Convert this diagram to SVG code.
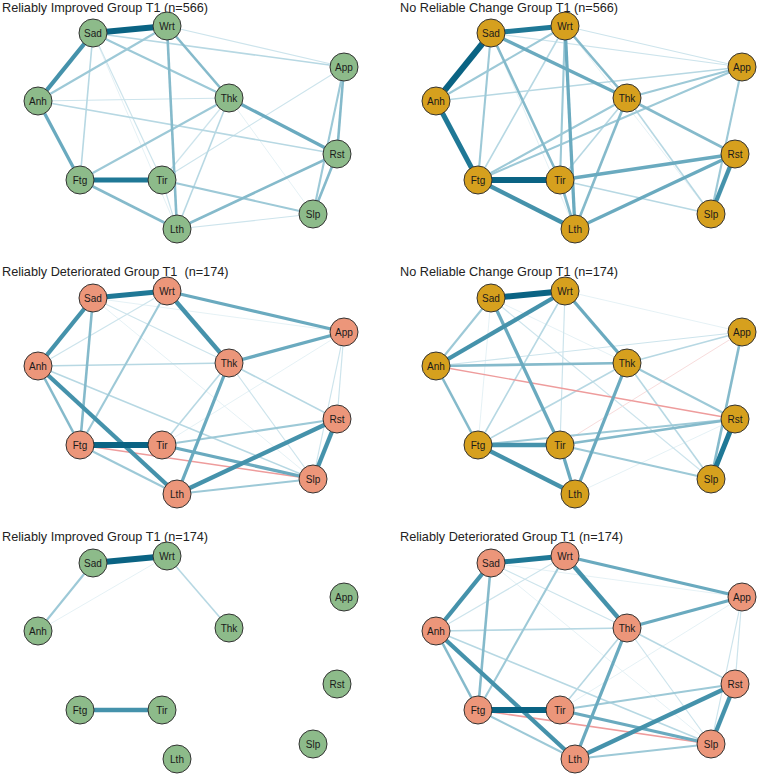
<svg xmlns="http://www.w3.org/2000/svg" width="758" height="777" viewBox="0 0 758 777">
<style>
.bg{fill:#ffffff}
.title{font-family:"Liberation Sans",Arial,sans-serif;font-size:12.7px;fill:#222222}
.e{fill:none}
.neg{stroke:#EE9C9C}
.a6{stroke-width:6;stroke:#0A6383}
.a5{stroke-width:5;stroke:#1F7896}
.a4{stroke-width:4.3;stroke:#4592AB}
.a3{stroke-width:3.3;stroke:#6AAABF}
.a25{stroke-width:2.6;stroke:#85BACB}
.a2{stroke-width:2.1;stroke:#9DC9D7}
.a15{stroke-width:1.6;stroke:#B7D8E3}
.a1{stroke-width:1.2;stroke:#CDE4EC}
.a05{stroke-width:.9;stroke:#E2EFF4}
.node circle{stroke:#333333;stroke-width:1}
.gr circle{fill:#8DBB8A}
.go circle{fill:#D6A01E}
.sa circle{fill:#EC967A}
.node text{font-family:"Liberation Sans",Arial,sans-serif;font-size:10px;fill:#1a1a1a;text-anchor:middle}
</style>
<rect class="bg" x="0" y="0" width="758" height="777"/>

<text class="title" x="2" y="12">Reliably Improved Group T1 (n=566)</text>
<text class="title" x="400" y="12">No Reliable Change Group T1 (n=566)</text>
<text class="title" x="2" y="276" xml:space="preserve">Reliably Deteriorated Group T1  (n=174)</text>
<text class="title" x="400" y="276">No Reliable Change Group T1 (n=174)</text>
<text class="title" x="2" y="541">Reliably Improved Group T1 (n=174)</text>
<text class="title" x="400" y="541">Reliably Deteriorated Group T1 (n=174)</text>

<!-- Panel 1 -->
<g id="panel1" transform="translate(0,0)">
<g id="p1-edges">
<line class="e a05" x1="93" y1="33" x2="177" y2="229"/>
<line class="e a05" x1="229" y1="98" x2="313" y2="214"/>
<line class="e a1" x1="167" y1="26" x2="344" y2="67"/>
<line class="e a1" x1="38" y1="101" x2="229" y2="98"/>
<line class="e a1" x1="93" y1="33" x2="162" y2="180"/>
<line class="e a1" x1="162" y1="180" x2="177" y2="229"/>
<line class="e a1" x1="229" y1="98" x2="162" y2="180"/>
<line class="e a1" x1="344" y1="67" x2="162" y2="180"/>
<line class="e a1" x1="177" y1="229" x2="313" y2="214"/>
<line class="e a15" x1="93" y1="33" x2="80" y2="180"/>
<line class="e a15" x1="93" y1="33" x2="344" y2="67"/>
<line class="e a15" x1="38" y1="101" x2="337" y2="154"/>
<line class="e a15" x1="229" y1="98" x2="177" y2="229"/>
<line class="e a2" x1="344" y1="67" x2="313" y2="214"/>
<line class="e a2" x1="93" y1="33" x2="229" y2="98"/>
<line class="e a2" x1="80" y1="180" x2="229" y2="98"/>
<line class="e a2" x1="162" y1="180" x2="313" y2="214"/>
<line class="e a2" x1="167" y1="26" x2="38" y2="101"/>
<line class="e a25" x1="167" y1="26" x2="229" y2="98"/>
<line class="e a25" x1="167" y1="26" x2="177" y2="229"/>
<line class="e a25" x1="80" y1="180" x2="177" y2="229"/>
<line class="e a25" x1="177" y1="229" x2="337" y2="154"/>
<line class="e a25" x1="344" y1="67" x2="337" y2="154"/>
<line class="e a25" x1="337" y1="154" x2="313" y2="214"/>
<line class="e a3" x1="229" y1="98" x2="337" y2="154"/>
<line class="e a3" x1="38" y1="101" x2="80" y2="180"/>
<line class="e a4" x1="93" y1="33" x2="38" y2="101"/>
<line class="e a5" x1="80" y1="180" x2="162" y2="180"/>
<line class="e a6" x1="93" y1="33" x2="167" y2="26"/>
</g>
<g id="p1-sad" class="node gr"><circle cx="93" cy="33" r="14"/><text x="93" y="36.5">Sad</text></g>
<g id="p1-wrt" class="node gr"><circle cx="167" cy="26" r="14"/><text x="167" y="29.5">Wrt</text></g>
<g id="p1-app" class="node gr"><circle cx="344" cy="67" r="14"/><text x="344" y="70.5">App</text></g>
<g id="p1-anh" class="node gr"><circle cx="38" cy="101" r="14"/><text x="38" y="104.5">Anh</text></g>
<g id="p1-thk" class="node gr"><circle cx="229" cy="98" r="14"/><text x="229" y="101.5">Thk</text></g>
<g id="p1-rst" class="node gr"><circle cx="337" cy="154" r="14"/><text x="337" y="157.5">Rst</text></g>
<g id="p1-ftg" class="node gr"><circle cx="80" cy="180" r="14"/><text x="80" y="183.5">Ftg</text></g>
<g id="p1-tir" class="node gr"><circle cx="162" cy="180" r="14"/><text x="162" y="183.5">Tir</text></g>
<g id="p1-slp" class="node gr"><circle cx="313" cy="214" r="14"/><text x="313" y="217.5">Slp</text></g>
<g id="p1-lth" class="node gr"><circle cx="177" cy="229" r="14"/><text x="177" y="232.5">Lth</text></g>
</g>

<!-- Panel 2 -->
<g id="panel2" transform="translate(398,0)">
<g id="p2-edges">
<line class="e a05" x1="167" y1="26" x2="313" y2="214"/>
<line class="e a05" x1="93" y1="33" x2="177" y2="229"/>
<line class="e a1" x1="93" y1="33" x2="344" y2="67"/>
<line class="e a1" x1="167" y1="26" x2="344" y2="67"/>
<line class="e a15" x1="167" y1="26" x2="80" y2="180"/>
<line class="e a15" x1="38" y1="101" x2="344" y2="67"/>
<line class="e a15" x1="229" y1="98" x2="313" y2="214"/>
<line class="e a15" x1="162" y1="180" x2="313" y2="214"/>
<line class="e a15" x1="229" y1="98" x2="162" y2="180"/>
<line class="e a2" x1="93" y1="33" x2="80" y2="180"/>
<line class="e a2" x1="167" y1="26" x2="38" y2="101"/>
<line class="e a2" x1="167" y1="26" x2="162" y2="180"/>
<line class="e a2" x1="229" y1="98" x2="344" y2="67"/>
<line class="e a2" x1="80" y1="180" x2="344" y2="67"/>
<line class="e a2" x1="80" y1="180" x2="229" y2="98"/>
<line class="e a2" x1="344" y1="67" x2="313" y2="214"/>
<line class="e a25" x1="229" y1="98" x2="177" y2="229"/>
<line class="e a25" x1="229" y1="98" x2="337" y2="154"/>
<line class="e a25" x1="162" y1="180" x2="177" y2="229"/>
<line class="e a25" x1="167" y1="26" x2="229" y2="98"/>
<line class="e a25" x1="93" y1="33" x2="162" y2="180"/>
<line class="e a3" x1="93" y1="33" x2="229" y2="98"/>
<line class="e a3" x1="167" y1="26" x2="177" y2="229"/>
<line class="e a3" x1="162" y1="180" x2="337" y2="154"/>
<line class="e a3" x1="177" y1="229" x2="337" y2="154"/>
<line class="e a4" x1="80" y1="180" x2="177" y2="229"/>
<line class="e a4" x1="337" y1="154" x2="313" y2="214"/>
<line class="e a5" x1="93" y1="33" x2="167" y2="26"/>
<line class="e a5" x1="38" y1="101" x2="80" y2="180"/>
<line class="e a6" x1="93" y1="33" x2="38" y2="101"/>
<line class="e a6" x1="80" y1="180" x2="162" y2="180"/>
</g>
<g id="p2-sad" class="node go"><circle cx="93" cy="33" r="14"/><text x="93" y="36.5">Sad</text></g>
<g id="p2-wrt" class="node go"><circle cx="167" cy="26" r="14"/><text x="167" y="29.5">Wrt</text></g>
<g id="p2-app" class="node go"><circle cx="344" cy="67" r="14"/><text x="344" y="70.5">App</text></g>
<g id="p2-anh" class="node go"><circle cx="38" cy="101" r="14"/><text x="38" y="104.5">Anh</text></g>
<g id="p2-thk" class="node go"><circle cx="229" cy="98" r="14"/><text x="229" y="101.5">Thk</text></g>
<g id="p2-rst" class="node go"><circle cx="337" cy="154" r="14"/><text x="337" y="157.5">Rst</text></g>
<g id="p2-ftg" class="node go"><circle cx="80" cy="180" r="14"/><text x="80" y="183.5">Ftg</text></g>
<g id="p2-tir" class="node go"><circle cx="162" cy="180" r="14"/><text x="162" y="183.5">Tir</text></g>
<g id="p2-slp" class="node go"><circle cx="313" cy="214" r="14"/><text x="313" y="217.5">Slp</text></g>
<g id="p2-lth" class="node go"><circle cx="177" cy="229" r="14"/><text x="177" y="232.5">Lth</text></g>
</g>

<!-- Panel 3 -->
<g id="panel3" transform="translate(0,265)">
<g id="p3-edges">
<line class="e a05" x1="93" y1="33" x2="313" y2="214"/>
<line class="e a05" x1="344" y1="67" x2="162" y2="180"/>
<line class="e a05" x1="93" y1="33" x2="344" y2="67"/>
<line class="e a1" x1="167" y1="26" x2="38" y2="101"/>
<line class="e a1" x1="93" y1="33" x2="229" y2="98"/>
<line class="e a1" x1="344" y1="67" x2="337" y2="154"/>
<line class="e a1" x1="344" y1="67" x2="313" y2="214"/>
<line class="e a1" x1="229" y1="98" x2="313" y2="214"/>
<line class="e a15" x1="38" y1="101" x2="229" y2="98"/>
<line class="e a15" x1="229" y1="98" x2="162" y2="180"/>
<line class="e a15" x1="229" y1="98" x2="337" y2="154"/>
<line class="e a15" x1="38" y1="101" x2="313" y2="214"/>
<line class="e a2" x1="167" y1="26" x2="80" y2="180"/>
<line class="e a2" x1="162" y1="180" x2="337" y2="154"/>
<line class="e a2" x1="80" y1="180" x2="177" y2="229"/>
<line class="e a2" x1="177" y1="229" x2="313" y2="214"/>
<line class="e neg" stroke-width="1.5" x1="80" y1="180" x2="313" y2="214"/>
<line class="e a25" x1="38" y1="101" x2="80" y2="180"/>
<line class="e a25" x1="93" y1="33" x2="80" y2="180"/>
<line class="e a3" x1="167" y1="26" x2="344" y2="67"/>
<line class="e a3" x1="229" y1="98" x2="344" y2="67"/>
<line class="e a3" x1="229" y1="98" x2="177" y2="229"/>
<line class="e a3" x1="162" y1="180" x2="313" y2="214"/>
<line class="e a4" x1="93" y1="33" x2="38" y2="101"/>
<line class="e a4" x1="167" y1="26" x2="229" y2="98"/>
<line class="e a4" x1="38" y1="101" x2="177" y2="229"/>
<line class="e a4" x1="177" y1="229" x2="337" y2="154"/>
<line class="e a4" x1="337" y1="154" x2="313" y2="214"/>
<line class="e a5" x1="93" y1="33" x2="167" y2="26"/>
<line class="e a6" x1="80" y1="180" x2="162" y2="180"/>
</g>
<g id="p3-sad" class="node sa"><circle cx="93" cy="33" r="14"/><text x="93" y="36.5">Sad</text></g>
<g id="p3-wrt" class="node sa"><circle cx="167" cy="26" r="14"/><text x="167" y="29.5">Wrt</text></g>
<g id="p3-app" class="node sa"><circle cx="344" cy="67" r="14"/><text x="344" y="70.5">App</text></g>
<g id="p3-anh" class="node sa"><circle cx="38" cy="101" r="14"/><text x="38" y="104.5">Anh</text></g>
<g id="p3-thk" class="node sa"><circle cx="229" cy="98" r="14"/><text x="229" y="101.5">Thk</text></g>
<g id="p3-rst" class="node sa"><circle cx="337" cy="154" r="14"/><text x="337" y="157.5">Rst</text></g>
<g id="p3-ftg" class="node sa"><circle cx="80" cy="180" r="14"/><text x="80" y="183.5">Ftg</text></g>
<g id="p3-tir" class="node sa"><circle cx="162" cy="180" r="14"/><text x="162" y="183.5">Tir</text></g>
<g id="p3-slp" class="node sa"><circle cx="313" cy="214" r="14"/><text x="313" y="217.5">Slp</text></g>
<g id="p3-lth" class="node sa"><circle cx="177" cy="229" r="14"/><text x="177" y="232.5">Lth</text></g>
</g>

<!-- Panel 4 -->
<g id="panel4" transform="translate(398,265)">
<g id="p4-edges">
<line class="e a05" x1="167" y1="26" x2="344" y2="67"/>
<line class="e a05" x1="93" y1="33" x2="229" y2="98"/>
<line class="e a05" x1="177" y1="229" x2="337" y2="154"/>
<line class="e a05" x1="93" y1="33" x2="80" y2="180"/>
<line class="e a1" x1="38" y1="101" x2="344" y2="67"/>
<line class="e a1" x1="167" y1="26" x2="162" y2="180"/>
<line class="e a1" x1="93" y1="33" x2="313" y2="214"/>
<line class="e" stroke="#F8DCDC" stroke-width="1" x1="162" y1="180" x2="344" y2="67"/>
<line class="e a15" x1="167" y1="26" x2="80" y2="180"/>
<line class="e a15" x1="80" y1="180" x2="229" y2="98"/>
<line class="e a15" x1="229" y1="98" x2="344" y2="67"/>
<line class="e a15" x1="229" y1="98" x2="313" y2="214"/>
<line class="e a2" x1="93" y1="33" x2="38" y2="101"/>
<line class="e a2" x1="229" y1="98" x2="337" y2="154"/>
<line class="e a2" x1="162" y1="180" x2="313" y2="214"/>
<line class="e a2" x1="80" y1="180" x2="337" y2="154"/>
<line class="e neg" stroke-width="1.3" x1="38" y1="101" x2="337" y2="154"/>
<line class="e a25" x1="38" y1="101" x2="80" y2="180"/>
<line class="e a25" x1="38" y1="101" x2="229" y2="98"/>
<line class="e a25" x1="344" y1="67" x2="313" y2="214"/>
<line class="e a25" x1="162" y1="180" x2="337" y2="154"/>
<line class="e a3" x1="93" y1="33" x2="162" y2="180"/>
<line class="e a3" x1="229" y1="98" x2="177" y2="229"/>
<line class="e a3" x1="162" y1="180" x2="177" y2="229"/>
<line class="e a3" x1="167" y1="26" x2="229" y2="98"/>
<line class="e a4" x1="167" y1="26" x2="38" y2="101"/>
<line class="e a4" x1="80" y1="180" x2="177" y2="229"/>
<line class="e a4" x1="80" y1="180" x2="162" y2="180"/>
<line class="e a5" x1="337" y1="154" x2="313" y2="214"/>
<line class="e a6" x1="93" y1="33" x2="167" y2="26"/>
</g>
<g id="p4-sad" class="node go"><circle cx="93" cy="33" r="14"/><text x="93" y="36.5">Sad</text></g>
<g id="p4-wrt" class="node go"><circle cx="167" cy="26" r="14"/><text x="167" y="29.5">Wrt</text></g>
<g id="p4-app" class="node go"><circle cx="344" cy="67" r="14"/><text x="344" y="70.5">App</text></g>
<g id="p4-anh" class="node go"><circle cx="38" cy="101" r="14"/><text x="38" y="104.5">Anh</text></g>
<g id="p4-thk" class="node go"><circle cx="229" cy="98" r="14"/><text x="229" y="101.5">Thk</text></g>
<g id="p4-rst" class="node go"><circle cx="337" cy="154" r="14"/><text x="337" y="157.5">Rst</text></g>
<g id="p4-ftg" class="node go"><circle cx="80" cy="180" r="14"/><text x="80" y="183.5">Ftg</text></g>
<g id="p4-tir" class="node go"><circle cx="162" cy="180" r="14"/><text x="162" y="183.5">Tir</text></g>
<g id="p4-slp" class="node go"><circle cx="313" cy="214" r="14"/><text x="313" y="217.5">Slp</text></g>
<g id="p4-lth" class="node go"><circle cx="177" cy="229" r="14"/><text x="177" y="232.5">Lth</text></g>
</g>

<!-- Panel 5 -->
<g id="panel5" transform="translate(0,530)">
<g id="p5-edges">
<line class="e a05" x1="167" y1="26" x2="38" y2="101"/>
<line class="e a15" x1="167" y1="26" x2="229" y2="98"/>
<line class="e a2" x1="93" y1="33" x2="38" y2="101"/>
<line class="e a4" x1="80" y1="180" x2="162" y2="180"/>
<line class="e a6" x1="93" y1="33" x2="167" y2="26"/>
</g>
<g id="p5-sad" class="node gr"><circle cx="93" cy="33" r="14"/><text x="93" y="36.5">Sad</text></g>
<g id="p5-wrt" class="node gr"><circle cx="167" cy="26" r="14"/><text x="167" y="29.5">Wrt</text></g>
<g id="p5-app" class="node gr"><circle cx="344" cy="67" r="14"/><text x="344" y="70.5">App</text></g>
<g id="p5-anh" class="node gr"><circle cx="38" cy="101" r="14"/><text x="38" y="104.5">Anh</text></g>
<g id="p5-thk" class="node gr"><circle cx="229" cy="98" r="14"/><text x="229" y="101.5">Thk</text></g>
<g id="p5-rst" class="node gr"><circle cx="337" cy="154" r="14"/><text x="337" y="157.5">Rst</text></g>
<g id="p5-ftg" class="node gr"><circle cx="80" cy="180" r="14"/><text x="80" y="183.5">Ftg</text></g>
<g id="p5-tir" class="node gr"><circle cx="162" cy="180" r="14"/><text x="162" y="183.5">Tir</text></g>
<g id="p5-slp" class="node gr"><circle cx="313" cy="214" r="14"/><text x="313" y="217.5">Slp</text></g>
<g id="p5-lth" class="node gr"><circle cx="177" cy="229" r="14"/><text x="177" y="232.5">Lth</text></g>
</g>

<!-- Panel 6 -->
<g id="panel6" transform="translate(398,530)">
<g id="p6-edges">
<line class="e a05" x1="93" y1="33" x2="313" y2="214"/>
<line class="e a05" x1="344" y1="67" x2="162" y2="180"/>
<line class="e a05" x1="93" y1="33" x2="344" y2="67"/>
<line class="e a1" x1="167" y1="26" x2="38" y2="101"/>
<line class="e a1" x1="93" y1="33" x2="229" y2="98"/>
<line class="e a1" x1="344" y1="67" x2="337" y2="154"/>
<line class="e a1" x1="344" y1="67" x2="313" y2="214"/>
<line class="e a1" x1="229" y1="98" x2="313" y2="214"/>
<line class="e a15" x1="38" y1="101" x2="229" y2="98"/>
<line class="e a15" x1="229" y1="98" x2="162" y2="180"/>
<line class="e a15" x1="229" y1="98" x2="337" y2="154"/>
<line class="e a15" x1="38" y1="101" x2="313" y2="214"/>
<line class="e a2" x1="167" y1="26" x2="80" y2="180"/>
<line class="e a2" x1="162" y1="180" x2="337" y2="154"/>
<line class="e a2" x1="80" y1="180" x2="177" y2="229"/>
<line class="e a2" x1="177" y1="229" x2="313" y2="214"/>
<line class="e neg" stroke-width="1.5" x1="80" y1="180" x2="313" y2="214"/>
<line class="e a25" x1="38" y1="101" x2="80" y2="180"/>
<line class="e a25" x1="93" y1="33" x2="80" y2="180"/>
<line class="e a3" x1="167" y1="26" x2="344" y2="67"/>
<line class="e a3" x1="229" y1="98" x2="344" y2="67"/>
<line class="e a3" x1="229" y1="98" x2="177" y2="229"/>
<line class="e a3" x1="162" y1="180" x2="313" y2="214"/>
<line class="e a4" x1="93" y1="33" x2="38" y2="101"/>
<line class="e a4" x1="167" y1="26" x2="229" y2="98"/>
<line class="e a4" x1="38" y1="101" x2="177" y2="229"/>
<line class="e a4" x1="177" y1="229" x2="337" y2="154"/>
<line class="e a4" x1="337" y1="154" x2="313" y2="214"/>
<line class="e a5" x1="93" y1="33" x2="167" y2="26"/>
<line class="e a6" x1="80" y1="180" x2="162" y2="180"/>
</g>
<g id="p6-sad" class="node sa"><circle cx="93" cy="33" r="14"/><text x="93" y="36.5">Sad</text></g>
<g id="p6-wrt" class="node sa"><circle cx="167" cy="26" r="14"/><text x="167" y="29.5">Wrt</text></g>
<g id="p6-app" class="node sa"><circle cx="344" cy="67" r="14"/><text x="344" y="70.5">App</text></g>
<g id="p6-anh" class="node sa"><circle cx="38" cy="101" r="14"/><text x="38" y="104.5">Anh</text></g>
<g id="p6-thk" class="node sa"><circle cx="229" cy="98" r="14"/><text x="229" y="101.5">Thk</text></g>
<g id="p6-rst" class="node sa"><circle cx="337" cy="154" r="14"/><text x="337" y="157.5">Rst</text></g>
<g id="p6-ftg" class="node sa"><circle cx="80" cy="180" r="14"/><text x="80" y="183.5">Ftg</text></g>
<g id="p6-tir" class="node sa"><circle cx="162" cy="180" r="14"/><text x="162" y="183.5">Tir</text></g>
<g id="p6-slp" class="node sa"><circle cx="313" cy="214" r="14"/><text x="313" y="217.5">Slp</text></g>
<g id="p6-lth" class="node sa"><circle cx="177" cy="229" r="14"/><text x="177" y="232.5">Lth</text></g>
</g>
</svg>
